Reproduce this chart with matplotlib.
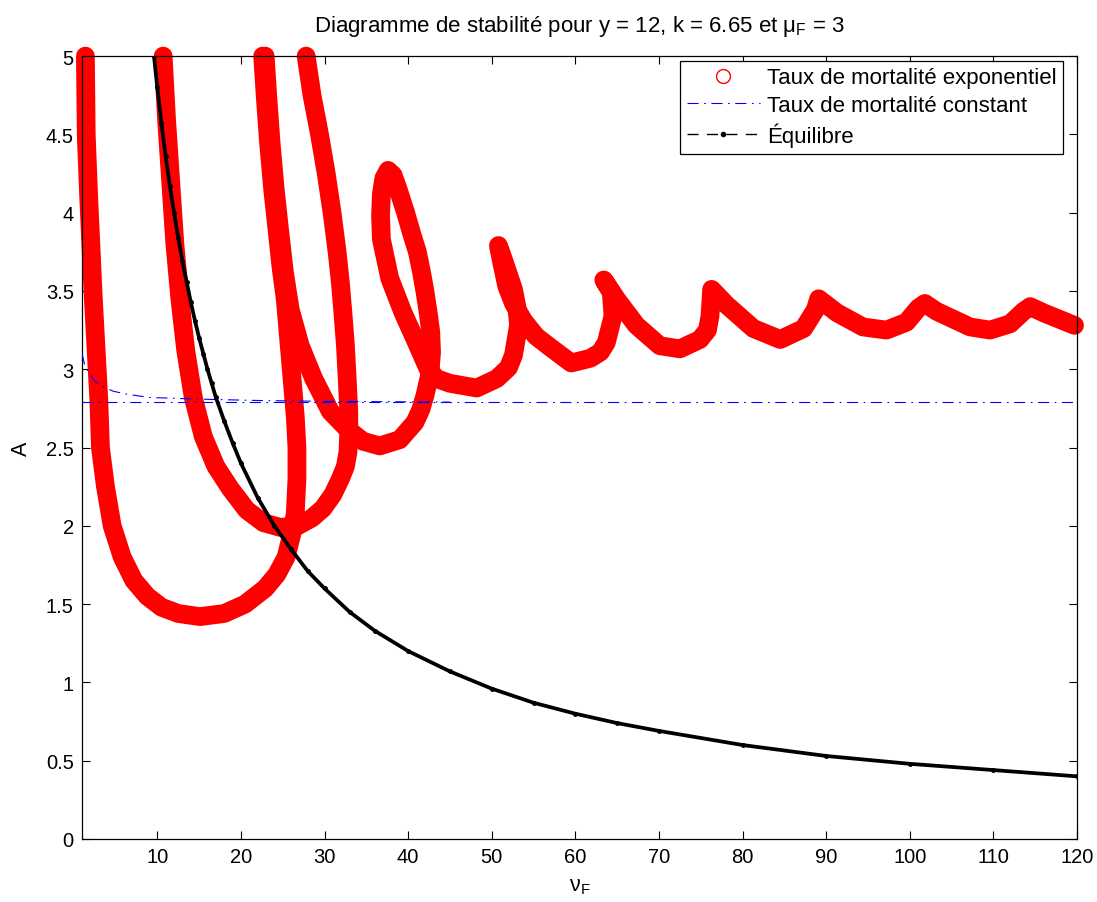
import matplotlib
matplotlib.use("Agg")
import matplotlib.pyplot as plt
from matplotlib.lines import Line2D

plt.rcParams['font.family'] = ['Liberation Sans', 'DejaVu Sans']
plt.rcParams['mathtext.fontset'] = 'custom'
plt.rcParams['mathtext.rm'] = 'Liberation Sans'
plt.rcParams['mathtext.it'] = 'Liberation Sans'

# Courbes de stabilite (taux de mortalite exponentiel), trois branches
branche1_nu = [1.4, 1.5, 1.8, 2.35, 3.0, 3.2, 3.8, 4.6, 5.8, 7.2, 8.8, 10.5, 12.5,
               15.1, 18.0, 20.5, 22.9, 24.3, 25.4, 26.1, 26.5, 26.7, 26.7, 26.5,
               26.1, 25.7, 25.3, 24.8, 24.3, 23.8, 23.3, 22.9, 22.6]
branche1_A = [5.0, 4.5, 4.09, 3.45, 2.81, 2.5, 2.25, 2.0, 1.8, 1.65, 1.55, 1.48, 1.44,
              1.42, 1.44, 1.5, 1.6, 1.69, 1.8, 1.95, 2.08, 2.3, 2.5, 2.7,
              2.95, 3.2, 3.45, 3.65, 3.9, 4.15, 4.45, 4.75, 5.0]

branche2_nu = [10.7, 11.1, 11.6, 12.1, 12.7, 13.4, 14.3, 15.5, 17.0, 18.7, 20.7, 22.7,
               24.7, 26.8, 28.5, 29.8, 31.0, 31.9, 32.5, 32.8, 32.9, 32.9, 32.7,
               32.5, 32.2, 31.9, 31.5, 30.9, 30.2, 29.4, 28.5, 27.8]
branche2_A = [5.0, 4.6, 4.2, 3.8, 3.45, 3.12, 2.82, 2.57, 2.38, 2.24, 2.1, 2.02,
              1.99, 2.0, 2.05, 2.11, 2.2, 2.3, 2.38, 2.47, 2.6, 2.73, 2.95,
              3.15, 3.36, 3.55, 3.75, 4.0, 4.25, 4.5, 4.75, 5.0]

branche3_nu = [22.9, 23.2, 23.6, 24.1, 24.6, 25.2, 25.9, 27.1, 28.7, 30.7, 32.7, 34.6,
               36.6, 39.0, 40.8, 41.5, 42.0, 42.6, 42.8, 42.7, 42.4, 42.0, 41.6,
               41.1, 40.4, 39.7, 38.8, 38.2, 37.6, 37.1, 36.8, 36.7, 36.8, 37.8,
               39.4, 41.0, 42.4, 43.4, 45.0, 48.2, 50.6, 52.0, 52.6, 53.2, 53.0,
               52.6, 51.4, 50.8, 51.2, 51.8, 52.6, 53.8, 55.3, 57.0, 59.5, 61.8,
               63.0, 63.7, 64.5, 64.3, 63.4, 64.9, 67.3, 70.1, 72.5, 74.9, 75.8,
               76.1, 76.3, 78.1, 81.3, 84.5, 87.3, 88.7, 89.1, 91.3, 94.4, 97.2,
               99.6, 101.0, 101.8, 103.2, 107.2, 109.6, 112.0, 113.6, 114.4,
               116.0, 119.7]
branche3_A = [5.0, 4.75, 4.45, 4.15, 3.9, 3.62, 3.38, 3.15, 2.94, 2.73, 2.62, 2.54,
              2.51, 2.55, 2.66, 2.74, 2.83, 2.97, 3.11, 3.24, 3.36, 3.5, 3.62,
              3.75, 3.87, 4.0, 4.15, 4.24, 4.27, 4.22, 4.12, 3.98, 3.83, 3.58,
              3.36, 3.17, 3.0, 2.94, 2.91, 2.88, 2.94, 3.01, 3.09, 3.28, 3.4,
              3.51, 3.7, 3.79, 3.68, 3.53, 3.42, 3.31, 3.21, 3.14, 3.04, 3.07,
              3.11, 3.17, 3.34, 3.49, 3.57, 3.45, 3.28, 3.15, 3.13, 3.19, 3.25,
              3.34, 3.51, 3.41, 3.26, 3.19, 3.26, 3.38, 3.45, 3.36, 3.27, 3.25,
              3.3, 3.39, 3.42, 3.37, 3.27, 3.25, 3.29, 3.37, 3.4,
              3.36, 3.28]

# Taux de mortalite constant (deux branches)
constant_nu = [1, 120]
constant_A = [2.79, 2.79]
constant2_nu = [1.0, 1.3, 2.0, 2.6, 3.5, 4.7, 6.4, 9.0, 14.3, 22.3, 30.0, 45.0]
constant2_A = [3.10, 3.03, 2.96, 2.92, 2.89, 2.86, 2.84, 2.82, 2.81, 2.80, 2.795, 2.79]

# Equilibre
equilibre_nu = [9.6, 10, 10.5, 11, 11.5, 12, 12.5, 13, 13.5, 14, 14.5, 15, 15.5, 16,
                16.5, 17, 18, 19, 20, 22, 24, 26, 28, 30, 33, 36, 40, 45, 50, 55,
                60, 65, 70, 80, 90, 100, 110, 120]
equilibre_A = [5.0, 4.8, 4.57, 4.36, 4.17, 4.0, 3.84, 3.69, 3.56, 3.43, 3.31, 3.2, 3.1,
               3.0, 2.91, 2.82, 2.67, 2.53, 2.4, 2.18, 2.0, 1.85, 1.71, 1.6, 1.45,
               1.33, 1.2, 1.07, 0.96, 0.87, 0.8, 0.74, 0.69, 0.6, 0.53, 0.48, 0.44,
               0.4]

fig = plt.figure(figsize=(10.97, 9.03), dpi=100)
ax = fig.add_axes([0.0748, 0.0698, 0.907, 0.867])

for bx, by in [(branche1_nu, branche1_A), (branche2_nu, branche2_A), (branche3_nu, branche3_A)]:
    ax.plot(bx, by, color='red', lw=13.5, solid_capstyle='round',
            solid_joinstyle='round', clip_on=False, zorder=2)

tirets = (0, (10, 5, 1.5, 5))
ax.plot(constant_nu, constant_A, color='blue', lw=0.8, linestyle=tirets, zorder=3)
ax.plot(constant2_nu, constant2_A, color='blue', lw=0.8, linestyle=tirets, zorder=3)

ax.plot(equilibre_nu, equilibre_A, color='black', lw=2.7, marker='.', ms=5, zorder=4)

ax.set_xlim(1, 120)
ax.set_ylim(0, 5)
ax.set_xticks(range(10, 121, 10))
ax.set_yticks([0, 0.5, 1, 1.5, 2, 2.5, 3, 3.5, 4, 4.5, 5])
ax.set_yticklabels(['0', '0.5', '1', '1.5', '2', '2.5', '3', '3.5', '4', '4.5', '5'])
ax.tick_params(direction='in', top=True, right=True, length=6, width=0.8,
               labelsize=14.5, pad=6)
for s in ax.spines.values():
    s.set_linewidth(0.9)

ax.set_title(r'Diagramme de stabilité pour y = 12, k = 6.65 et $\mathregular{\mu_F}$ = 3',
             fontsize=16, pad=18)
ax.set_xlabel(r'$\mathregular{\nu_F}$', fontsize=15.5, labelpad=6)
ax.set_ylabel('A', fontsize=15.5, labelpad=10)

handles = [
    Line2D([], [], color='red', marker='o', mfc='none', ms=10, lw=0),
    Line2D([], [], color='blue', lw=0.8, linestyle=tirets),
    Line2D([], [], color='black', lw=1, linestyle=(0, (8, 6)), marker='.', ms=6),
]
labels = ['Taux de mortalité exponentiel', 'Taux de mortalité constant', 'Équilibre']
leg = ax.legend(handles, labels, loc='upper right', bbox_to_anchor=(0.986, 0.994),
                borderaxespad=0, fancybox=False, edgecolor='black', framealpha=1,
                fontsize=16, handlelength=3.3, numpoints=1, labelspacing=0.3,
                borderpad=0.3, handletextpad=0.3)
leg.get_frame().set_linewidth(0.9)
leg.set_zorder(5)

fig.savefig('out.png', dpi=100)
